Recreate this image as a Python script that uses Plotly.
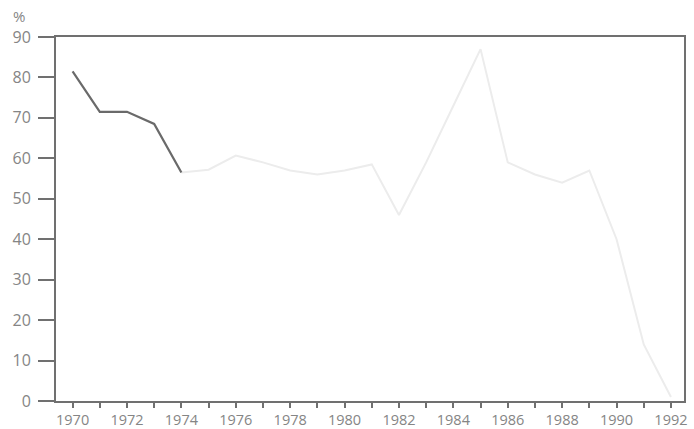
import plotly.graph_objects as go

years_dark = [1970, 1971, 1972, 1973, 1974]
values_dark = [81.5, 71.5, 71.5, 68.5, 56.5]

years_faint = [1974, 1975, 1976, 1977, 1978, 1979, 1980, 1981, 1982, 1983,
               1984, 1985, 1986, 1987, 1988, 1989, 1990, 1991, 1992]
values_faint = [56.5, 57.2, 60.7, 59, 57, 56, 57, 58.5, 46, 59,
                73, 87, 59, 56, 54, 57, 40, 14, 1]

x_tickvals = list(range(1970, 1993, 2))
x_minor = list(range(1970, 1993, 1))
y_tickvals = [0, 10, 20, 30, 40, 50, 60, 70, 80, 90]

axis_col = "#707070"
label_col = "#858585"

fig = go.Figure()
fig.add_trace(go.Scatter(x=years_faint, y=values_faint, mode="lines",
                         line=dict(color="#ececec", width=2), hoverinfo="skip"))
fig.add_trace(go.Scatter(x=years_dark, y=values_dark, mode="lines",
                         line=dict(color="#6a6a6a", width=2.2)))

fig.update_layout(
    width=694, height=429,
    margin=dict(l=56, r=10, t=37, b=28),
    paper_bgcolor="white", plot_bgcolor="white",
    showlegend=False,
    font=dict(family="Open Sans", size=15, color=label_col),
    annotations=[dict(text="%", x=0, y=1, xref="paper", yref="paper",
                      xshift=-45, yshift=9, xanchor="left", yanchor="bottom",
                      showarrow=False, font=dict(size=15, color=label_col))],
)
fig.update_xaxes(
    range=[1969.39, 1992.48], tickvals=x_tickvals, ticktext=[str(v) for v in x_tickvals],
    showgrid=False, zeroline=False, showline=True, linecolor=axis_col, linewidth=2,
    mirror=True, ticks="outside", ticklen=5, tickwidth=1.5, tickcolor=axis_col,
    minor=dict(tickvals=x_minor, ticks="outside", ticklen=5, tickwidth=1.5, tickcolor=axis_col),
    tickfont=dict(size=14.5, color=label_col), automargin=False,
)
fig.update_yaxes(
    range=[0, 90], tickvals=y_tickvals,
    showgrid=False, zeroline=False, showline=True, linecolor=axis_col, linewidth=2,
    mirror=True, ticks="outside", ticklen=16, tickwidth=2, tickcolor=axis_col,
    ticklabelstandoff=4,
    tickfont=dict(size=16, color=label_col), automargin=False,
)
fig.write_html("out.html", config={"displayModeBar": False},
               post_script="document.body.style.margin='0';")
